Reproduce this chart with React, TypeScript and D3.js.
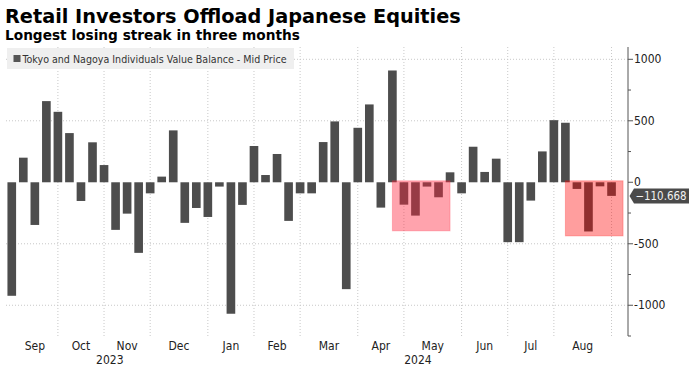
import React from 'react';
import * as d3 from 'd3';

const title = 'Retail Investors Offload Japanese Equities';
const subtitle = 'Longest losing streak in three months';
const seriesName = 'Tokyo and Nagoya Individuals Value Balance - Mid Price';

// weekly values, first week ending 2023-09-08
const firstWeek = '2023-09-08';
const values = [
  -923, 200, -347, 660, 573, 400, -152, 325, 140, -387, -255, -574, -90, 46, 422,
  -330, -209, -282, -35, -1069, -184, 295, 59, 230, -314, -90, -90, 327, 495, -869,
  443, 633, -206, 909, -182, -271, -35, -122, 81, -90, 289, 84, 192, -487, -487,
  -149, 251, 505, 484, -54, -400, -33, -110.668,
];
const lastValue = -110.668;

const yTicks = [-1000, -500, 0, 500, 1000];
const yMinorTicks = [-1250, -750, -250, 250, 750];
const yGrid = [-1000, -500, 500, 1000];

// highlighted streaks: start / end week index (centres), bottom value
const boxStart = [33, 48];
const boxEnd = [38, 53];
const boxBottom = [-395, -436];
const boxFill = ['rgb(255,36,60)', 'rgb(255,0,0)'];
const boxOpacity = [0.42, 0.38];

const W = 689;
const H = 367;
const axisX = 628;
const top = 47;
const bottom = 336;

export default function App() {
  const start = d3.utcParse('%Y-%m-%d')(firstWeek) as Date;
  const weeks = values.map((_, i) => d3.utcDay.offset(start, 7 * i));

  const x = d3
    .scaleBand<Date>()
    .domain(weeks)
    .range([6, 617.3])
    .paddingInner(0.25)
    .paddingOuter(0.125);
  const bw = x.bandwidth();
  const cx = (i: number) =>
    i < weeks.length ? (x(weeks[i]) as number) + bw / 2 : (x(weeks[weeks.length - 1]) as number) + bw / 2 + x.step() * (i - weeks.length + 1);

  const y = d3.scaleLinear().domain([-1250, 1100]).range([bottom, top]);

  // month start indices
  const monthStarts: number[] = [0];
  weeks.forEach((d, i) => {
    if (i > 0 && d.getUTCMonth() !== weeks[i - 1].getUTCMonth()) monthStarts.push(i);
  });
  const fmtMonth = d3.utcFormat('%b');
  const monthLabels = monthStarts.slice(0, -1).map((s, k) => ({
    label: fmtMonth(weeks[s]),
    pos: (cx(s) + cx(monthStarts[k + 1])) / 2,
  }));
  const janIdx = monthStarts.find((i) => weeks[i].getUTCMonth() === 0) as number;
  const years = [
    { label: '2023', pos: (cx(0) + cx(janIdx)) / 2 },
    { label: '2024', pos: (cx(janIdx) + axisX) / 2 },
  ];

  const font = '"DejaVu Sans Condensed", "DejaVu Sans", sans-serif';
  const yl = y(lastValue);

  return (
    <svg
      width={W}
      height={H}
      style={{ position: 'absolute', left: 0, top: 0, background: '#fff' }}
      fontFamily={font}
    >
      <text x={5} y={22.5} fontSize={19.3} fontWeight="bold" fontFamily='"DejaVu Sans", sans-serif' fill="#000">
        {title}
      </text>
      <text x={5} y={40} fontSize={13.7} fontWeight="bold" fontFamily='"DejaVu Sans", sans-serif' fill="#000">
        {subtitle}
      </text>

      {/* grid */}
      {yGrid.map((v) => (
        <line key={v} x1={6} x2={axisX} y1={y(v)} y2={y(v)} stroke="#c8c8c8" strokeDasharray="1,2" />
      ))}
      {monthStarts.slice(1).map((s) => (
        <line key={s} x1={cx(s)} x2={cx(s)} y1={top} y2={bottom} stroke="#c8c8c8" strokeDasharray="1,2" />
      ))}

      {/* legend */}
      <rect x={7} y={48} width={287} height={21} fill="#efefef" />
      <rect x={13.5} y={55} width={7} height={7} fill="#555" />
      <text x={22.5} y={62.5} fontSize={10.6} fill="#333">
        {seriesName}
      </text>

      {/* bars */}
      {values.map((v, i) => (
        <rect
          key={i}
          x={x(weeks[i])}
          width={bw}
          y={y(Math.max(0, v))}
          height={Math.abs(y(v) - y(0))}
          fill="#4d4d4d"
        />
      ))}

      {/* highlighted streaks */}
      {boxStart.map((s, k) => (
        <rect
          key={k}
          x={cx(s)}
          width={cx(boxEnd[k]) - cx(s)}
          y={y(12)}
          height={y(boxBottom[k]) - y(12)}
          fill={boxFill[k]}
          fillOpacity={boxOpacity[k]}
          stroke={boxFill[k]}
          strokeOpacity={0.25}
        />
      ))}

      {/* y axis */}
      <line x1={axisX} x2={axisX} y1={top} y2={bottom} stroke="#555" />
      {yTicks.map((v) => (
        <g key={v}>
          <line x1={axisX} x2={axisX + 5} y1={y(v)} y2={y(v)} stroke="#555" />
          <text x={axisX + 6} y={y(v)} dy="0.35em" fontSize={12} fill="#222">
            {v}
          </text>
        </g>
      ))}
      {yMinorTicks.map((v) => (
        <line key={v} x1={axisX} x2={axisX + 3} y1={y(v)} y2={y(v)} stroke="#555" />
      ))}

      {/* last value callout */}
      <path
        d={`M${axisX + 1.5},${yl} L${axisX + 6},${yl - 7.5} L${W},${yl - 7.5} L${W},${yl + 7.5} L${axisX + 6},${yl + 7.5} Z`}
        fill="#4a4a4a"
      />
      <text x={axisX + 7.5} y={yl} dy="0.36em" fontSize={11.4} fill="#f2f2f2">
        {d3.format('.3f')(lastValue)}
      </text>

      {/* x axis labels */}
      {monthLabels.map((m, i) => (
        <text key={i} x={m.pos} y={350} textAnchor="middle" fontSize={12} fill="#222">
          {m.label}
        </text>
      ))}
      {years.map((yr) => (
        <text key={yr.label} x={yr.pos} y={364} textAnchor="middle" fontSize={12} fill="#222">
          {yr.label}
        </text>
      ))}
    </svg>
  );
}
